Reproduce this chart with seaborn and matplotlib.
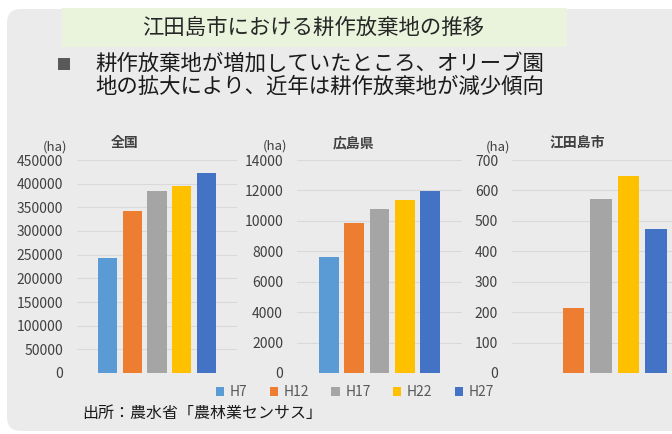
import numpy as np
import pandas as pd
import seaborn as sns
import matplotlib.pyplot as plt
from matplotlib.patches import FancyBboxPatch, Rectangle

# データ (単位: ha)
periods = ['H7', 'H12', 'H17', 'H22', 'H27']
regions = ['全国', '広島県', '江田島市']
zenkoku = [244000, 342800, 385500, 396000, 423000]
hiroshima = [7600, 9850, 10750, 11380, 11960]
etajima = [0, 213, 572, 646, 474]
y_max = [450000, 14000, 700]
y_step = [50000, 2000, 100]
colors = ['#5B9BD5', '#ED7D31', '#A5A5A5', '#FFC000', '#4472C4']

# 縦長データに変換
df = pd.DataFrame({
    'region': np.repeat(regions, len(periods)),
    'period': periods * len(regions),
    'value': zenkoku + hiroshima + etajima,
})

W, H = 672, 434
sns.set_style('white')
plt.rcParams['font.family'] = ['Noto Sans CJK JP', 'DejaVu Sans']

fig = plt.figure(figsize=(W / 100, H / 100), dpi=100)

# 背景 (ピクセル座標)
bg = fig.add_axes([0, 0, 1, 1])
bg.set_xlim(0, W)
bg.set_ylim(H, 0)
bg.axis('off')
bg.add_patch(FancyBboxPatch((7, 9), 700, 422,
                            boxstyle='round,pad=0,rounding_size=14',
                            fc='#EBEBEB', ec='none'))
bg.add_patch(Rectangle((62, 8), 505, 39, fc='#EAF4DC', ec='none'))
bg.text(313, 28, '江田島市における耕作放棄地の推移', ha='center', va='center',
        fontsize=15.4, color='#262626')
bg.add_patch(Rectangle((58, 58), 12, 12, fc='#595959', ec='none'))
bg.text(95, 64, '耕作放棄地が増加していたところ、オリーブ園', ha='left', va='center',
        fontsize=15.4, color='#1a1a1a')
bg.text(95, 87, '地の拡大により、近年は耕作放棄地が減少傾向', ha='left', va='center',
        fontsize=15.4, color='#1a1a1a')
bg.text(82, 413, '出所：農水省「農林業センサス」', ha='left', va='center',
        fontsize=11.5, color='#1a1a1a')

# グラフ配置 (ピクセル)
x_span = [(77, 237), (297, 462), (512, 690)]
top, bottom = 160, 373
title_pos = [(125, 143), (354, 143), (577, 142)]
unit_pos = [(55, 147), (275.5, 146), (498, 147.5)]

handles, labels = None, None
for i, reg in enumerate(regions):
    x0, x1 = x_span[i]
    ax = fig.add_axes([x0 / W, 1 - bottom / H, (x1 - x0) / W, (bottom - top) / H])
    ax.set_facecolor('none')
    sns.barplot(data=df[df['region'] == reg], x='region', y='value',
                hue='period', hue_order=periods, palette=colors, saturation=1,
                width=0.77, gap=0.22, linewidth=0, ax=ax, legend=(i == 0))
    if i == 0:
        handles, labels = ax.get_legend_handles_labels()
        ax.legend_.remove()
    ax.set_xlim(-0.5, 0.5)
    ax.set_ylim(0, y_max[i])
    ax.set_yticks(np.arange(0, y_max[i] + 1, y_step[i]))
    ax.set_xticks([])
    ax.set_xlabel('')
    ax.set_ylabel('')
    ax.yaxis.grid(True, color='#D9D9D9', lw=0.8)
    ax.set_axisbelow(True)
    for s in ax.spines.values():
        s.set_visible(False)
    ax.tick_params(axis='y', length=0, pad=10, labelsize=10, labelcolor='#404040')
    bg.text(*title_pos[i], reg, ha='center', va='center', fontsize=10,
            fontweight='bold', color='#404040')
    bg.text(*unit_pos[i], '(ha)', ha='center', va='center', fontsize=9.5,
            color='#404040')

fig.legend(handles, labels, loc='center', bbox_to_anchor=(355 / W, 1 - 392 / H),
           ncol=5, frameon=False, fontsize=10, handlelength=0.6, handleheight=0.6,
           handletextpad=0.4, columnspacing=1.6, labelcolor='#595959')

fig.savefig('out.png', dpi=100)
